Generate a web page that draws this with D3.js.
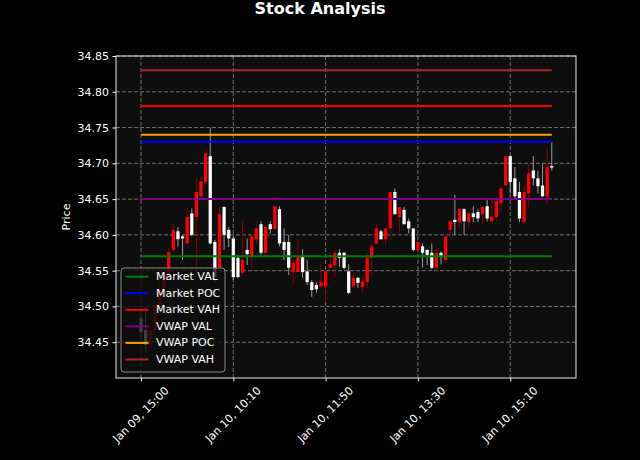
<!DOCTYPE html>
<html>
<head>
<meta charset="utf-8">
<script src="https://cdn.jsdelivr.net/npm/d3@7"></script>
<style>
  body { margin: 0; background: #000; }
  text { font-family: "DejaVu Sans", sans-serif; }
</style>
</head>
<body>
<svg id="chart" width="640" height="460"></svg>
<script>
// 5-minute bars, Jan 09 15:00 -> Jan 10 15:55 (90 bars)
const opens = [
  34.484, 34.467, 34.446, 34.467, 34.502, 34.520, 34.541, 34.579, 34.605, 34.598,
  34.588, 34.630, 34.625, 34.654, 34.674, 34.710, 34.590, 34.555, 34.639, 34.607,
  34.595, 34.568, 34.547, 34.579, 34.569, 34.594, 34.615, 34.575, 34.615, 34.608,
  34.636, 34.590, 34.590, 34.548, 34.548, 34.569, 34.549, 34.534, 34.530, 34.528,
  34.528, 34.554, 34.558, 34.575, 34.575, 34.549, 34.528, 34.540, 34.527, 34.534,
  34.568, 34.588, 34.605, 34.594, 34.609, 34.660, 34.625, 34.635, 34.619, 34.609,
  34.579, 34.584, 34.579, 34.575, 34.554, 34.575, 34.565, 34.607, 34.621, 34.618,
  34.636, 34.618, 34.630, 34.632, 34.629, 34.640, 34.619, 34.625, 34.644, 34.669,
  34.710, 34.679, 34.660, 34.618, 34.658, 34.690, 34.679, 34.669, 34.654, 34.696
];
const highs = [
  34.492, 34.499, 34.474, 34.509, 34.533, 34.551, 34.581, 34.615, 34.611, 34.600,
  34.637, 34.637, 34.679, 34.682, 34.718, 34.750, 34.593, 34.639, 34.640, 34.611,
  34.598, 34.572, 34.619, 34.595, 34.598, 34.619, 34.619, 34.611, 34.619, 34.640,
  34.640, 34.609, 34.600, 34.565, 34.595, 34.580, 34.565, 34.537, 34.534, 34.559,
  34.549, 34.575, 34.579, 34.580, 34.576, 34.559, 34.547, 34.541, 34.541, 34.575,
  34.588, 34.615, 34.607, 34.609, 34.660, 34.665, 34.639, 34.639, 34.623, 34.609,
  34.591, 34.588, 34.580, 34.588, 34.579, 34.577, 34.598, 34.621, 34.656, 34.636,
  34.637, 34.632, 34.640, 34.636, 34.639, 34.649, 34.649, 34.653, 34.669, 34.710,
  34.711, 34.695, 34.674, 34.669, 34.700, 34.710, 34.690, 34.700, 34.720, 34.730
];
const lows = [
  34.456, 34.436, 34.439, 34.453, 34.495, 34.509, 34.537, 34.576, 34.584, 34.565,
  34.586, 34.598, 34.554, 34.649, 34.669, 34.587, 34.534, 34.554, 34.579, 34.583,
  34.537, 34.540, 34.544, 34.558, 34.554, 34.588, 34.572, 34.569, 34.602, 34.608,
  34.584, 34.565, 34.544, 34.534, 34.548, 34.540, 34.530, 34.513, 34.519, 34.527,
  34.506, 34.551, 34.540, 34.555, 34.552, 34.517, 34.526, 34.526, 34.519, 34.526,
  34.544, 34.586, 34.593, 34.586, 34.595, 34.628, 34.600, 34.614, 34.602, 34.577,
  34.577, 34.554, 34.558, 34.552, 34.548, 34.559, 34.561, 34.600, 34.600, 34.609,
  34.600, 34.609, 34.618, 34.618, 34.615, 34.619, 34.618, 34.619, 34.629, 34.668,
  34.658, 34.649, 34.618, 34.616, 34.639, 34.669, 34.658, 34.653, 34.644, 34.690
];
const closes = [
  34.464, 34.446, 34.467, 34.502, 34.523, 34.544, 34.576, 34.607, 34.594, 34.595,
  34.625, 34.600, 34.660, 34.675, 34.714, 34.588, 34.541, 34.629, 34.600, 34.595,
  34.541, 34.541, 34.565, 34.573, 34.598, 34.609, 34.575, 34.611, 34.608, 34.640,
  34.588, 34.579, 34.554, 34.561, 34.569, 34.548, 34.534, 34.523, 34.524, 34.534,
  34.549, 34.559, 34.575, 34.568, 34.554, 34.519, 34.540, 34.533, 34.535, 34.568,
  34.584, 34.609, 34.594, 34.609, 34.660, 34.629, 34.639, 34.615, 34.609, 34.579,
  34.590, 34.575, 34.572, 34.554, 34.575, 34.569, 34.598, 34.619, 34.618, 34.636,
  34.619, 34.630, 34.625, 34.623, 34.639, 34.623, 34.625, 34.647, 34.665, 34.710,
  34.674, 34.654, 34.623, 34.660, 34.686, 34.679, 34.668, 34.654, 34.695, 34.694
];

const tickIndex = [0, 20, 40, 60, 80];
const tickLabels = ["Jan 09, 15:00", "Jan 10, 10:10", "Jan 10, 11:50", "Jan 10, 13:30", "Jan 10, 15:10"];
const priceTicks = [34.45, 34.50, 34.55, 34.60, 34.65, 34.70, 34.75, 34.80, 34.85];

const levelNames = ["Market VAL", "Market POC", "Market VAH", "VWAP VAL", "VWAP POC", "VWAP VAH"];
const levelValues = [34.57, 34.73, 34.78, 34.65, 34.74, 34.83];
const levelColors = ["#008000", "#0000ff", "#ff0000", "#800080", "#ffa500", "#a52a2a"];

const svg = d3.select("#chart");
const plotL = 116, plotR = 576, plotT = 56, plotB = 378;
const fs = 11;

const x = d3.scaleLinear().domain([-5.42, 94.25]).range([plotL, plotR]);
const y = d3.scaleLinear().domain([34.40, 34.85]).range([plotB, plotT]);

svg.append("rect").attr("width", 640).attr("height", 460).attr("fill", "#000");
svg.append("rect")
  .attr("x", plotL).attr("y", plotT)
  .attr("width", plotR - plotL).attr("height", plotB - plotT)
  .attr("fill", "#0e0e0e");

// grid
const grid = svg.append("g")
  .attr("stroke", "#8c8c8c")
  .attr("stroke-width", 0.8)
  .attr("stroke-dasharray", "4,2");
grid.selectAll("line.h").data(priceTicks).join("line")
  .attr("x1", plotL).attr("x2", plotR)
  .attr("y1", d => y(d)).attr("y2", d => y(d));
grid.selectAll("line.v").data(tickIndex).join("line")
  .attr("x1", d => x(d)).attr("x2", d => x(d))
  .attr("y1", plotT).attr("y2", plotB);

// candles
const bars = d3.range(opens.length);
const step = x(1) - x(0);
const bw = step * 0.7;
const isUp = i => closes[i] >= opens[i];

svg.append("g").selectAll("line").data(bars).join("line")
  .attr("x1", i => x(i)).attr("x2", i => x(i))
  .attr("y1", i => y(highs[i])).attr("y2", i => y(lows[i]))
  .attr("stroke", i => isUp(i) ? "#8b0000" : "#9a9a9a")
  .attr("stroke-width", 1);

svg.append("g").selectAll("rect").data(bars).join("rect")
  .attr("x", i => x(i) - bw / 2)
  .attr("width", bw)
  .attr("y", i => y(Math.max(opens[i], closes[i])))
  .attr("height", i => Math.max(1, Math.abs(y(opens[i]) - y(closes[i]))))
  .attr("fill", i => isUp(i) ? "#ff0000" : "#ffffff");

// level lines
svg.append("g").selectAll("line").data(levelValues).join("line")
  .attr("x1", x(0)).attr("x2", x(bars.length - 1))
  .attr("y1", d => y(d)).attr("y2", d => y(d))
  .attr("stroke", (d, k) => levelColors[k])
  .attr("stroke-width", 2);

// frame
svg.append("rect")
  .attr("x", plotL).attr("y", plotT)
  .attr("width", plotR - plotL).attr("height", plotB - plotT)
  .attr("fill", "none").attr("stroke", "#e8e8e8").attr("stroke-width", 1);

// y axis
const yAxis = svg.append("g")
  .attr("transform", `translate(${plotL},0)`)
  .call(d3.axisLeft(y).tickValues(priceTicks).tickFormat(d3.format(".2f")).tickSize(3.5).tickPadding(3.5));
yAxis.select(".domain").remove();
yAxis.selectAll("line").attr("stroke", "#fff");
yAxis.selectAll("text").attr("fill", "#fff").style("font-size", fs + "px")
  .style("font-family", "DejaVu Sans, sans-serif");

// x axis ticks + rotated labels
const xAxis = svg.append("g")
  .attr("transform", `translate(0,${plotB})`)
  .call(d3.axisBottom(x).tickValues(tickIndex).tickFormat("").tickSize(3.5));
xAxis.select(".domain").remove();
xAxis.selectAll("line").attr("stroke", "#fff");

tickIndex.forEach((d, k) => {
  const t = svg.append("text")
    .attr("fill", "#fff")
    .attr("font-size", fs)
    .attr("text-anchor", "middle")
    .attr("dominant-baseline", "central")
    .text(tickLabels[k]);
  const len = t.node().getComputedTextLength();
  const h = (len + fs) * Math.SQRT1_2;
  t.attr("transform", `translate(${x(d)},${plotB + 7 + h / 2}) rotate(-45)`);
});

// labels
svg.append("text")
  .attr("x", 320).attr("y", 14)
  .attr("text-anchor", "middle")
  .attr("fill", "#fff")
  .attr("font-size", 16)
  .attr("font-weight", "bold")
  .text("Stock Analysis");

svg.append("text")
  .attr("transform", `translate(66,${(plotT + plotB) / 2}) rotate(-90)`)
  .attr("text-anchor", "middle")
  .attr("dominant-baseline", "central")
  .attr("fill", "#fff")
  .attr("font-size", fs)
  .text("Price");

// legend
const lg = svg.append("g");
lg.append("rect")
  .attr("x", 121).attr("y", 268)
  .attr("width", 104).attr("height", 104)
  .attr("rx", 3)
  .attr("fill", "#0e0e0e").attr("fill-opacity", 0.8)
  .attr("stroke", "#8a8a8a").attr("stroke-width", 1);
const rows = lg.selectAll("g.row").data(levelNames).join("g")
  .attr("transform", (d, k) => `translate(0,${276.7 + k * 16.55})`);
rows.append("line")
  .attr("x1", 125.5).attr("x2", 148.5)
  .attr("stroke", (d, k) => levelColors[k])
  .attr("stroke-width", 2);
rows.append("text")
  .attr("x", 156)
  .attr("dominant-baseline", "central")
  .attr("fill", "#fff")
  .attr("font-size", fs)
  .text(d => d);
</script>
</body>
</html>
